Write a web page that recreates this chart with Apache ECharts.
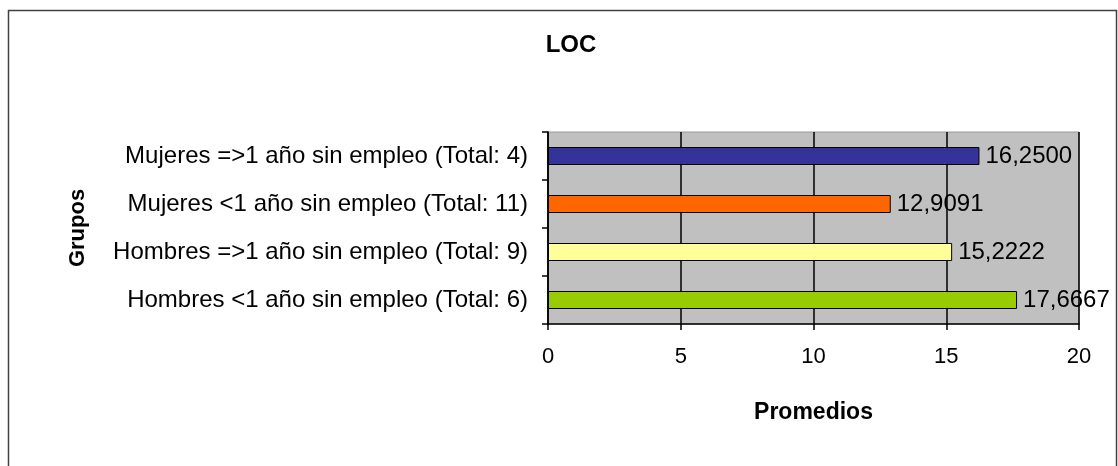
<!DOCTYPE html>
<html>
<head>
<meta charset="utf-8">
<title>LOC</title>
<script src="https://cdn.jsdelivr.net/npm/echarts@6/dist/echarts.min.js"></script>
<style>
  html, body { margin: 0; padding: 0; background: #ffffff; }
  #chart { width: 1118px; height: 466px; }
</style>
</head>
<body>
<div id="chart"></div>
<script>
// Groups, listed bottom to top as the category axis draws them
var groups = [
  'Hombres <1 año sin empleo (Total: 6)',
  'Hombres =>1 año sin empleo (Total: 9)',
  'Mujeres <1 año sin empleo (Total: 11)',
  'Mujeres =>1 año sin empleo (Total: 4)'
];
// Average LOC score per group
var averages = [17.6667, 15.2222, 12.9091, 16.25];
var barColors = ['#99CC00', '#FFFF99', '#FF6600', '#333399'];
var xTicks = [0, 5, 10, 15, 20];

var FONT = '"Liberation Sans", Arial, sans-serif';

var chart = echarts.init(document.getElementById('chart'), null, { renderer: 'canvas' });

chart.setOption({
  animation: false,
  backgroundColor: '#ffffff',
  title: {
    text: 'LOC',
    left: 566,
    top: 28,
    textAlign: 'center',
    textStyle: { fontFamily: FONT, fontSize: 24, fontWeight: 'bold', color: '#000' }
  },
  graphic: [{
    type: 'rect',
    shape: { x: 8.5, y: 10.5, width: 1108, height: 470 },
    style: { fill: 'none', stroke: '#404040', lineWidth: 1.5 },
    silent: true,
    z: 100
  }],
  grid: {
    left: 548, right: 39, top: 132, bottom: 142,
    show: true,
    backgroundColor: '#C0C0C0',
    borderColor: '#999999',
    borderWidth: 1
  },
  xAxis: {
    type: 'value',
    min: xTicks[0],
    max: xTicks[xTicks.length - 1],
    interval: 5,
    name: 'Promedios',
    nameLocation: 'middle',
    nameGap: 77,
    nameTextStyle: { fontFamily: FONT, fontSize: 23, fontWeight: 'bold', color: '#000' },
    axisLine: { show: true, lineStyle: { color: '#000', width: 1.5 } },
    axisTick: { show: true, length: 6, lineStyle: { color: '#000', width: 1.5 } },
    axisLabel: { fontFamily: FONT, fontSize: 22, color: '#000', margin: 22 },
    splitLine: { show: true, lineStyle: { color: '#000', width: 1.5 } }
  },
  yAxis: {
    type: 'category',
    data: groups,
    name: 'Grupos',
    nameLocation: 'middle',
    nameRotate: 90,
    nameGap: 459,
    nameTextStyle: { fontFamily: FONT, fontSize: 22, fontWeight: 'bold', color: '#000' },
    axisLine: { show: true, lineStyle: { color: '#000', width: 1.5 } },
    axisTick: { show: true, length: 6, lineStyle: { color: '#000', width: 1.5 } },
    axisLabel: { fontFamily: FONT, fontSize: 24, color: '#000', margin: 20 },
    splitLine: { show: false }
  },
  series: [{
    type: 'bar',
    data: averages.map(function (v, i) {
      return { value: v, itemStyle: { color: barColors[i] } };
    }),
    barWidth: 18,
    itemStyle: { borderColor: '#000', borderWidth: 1 },
    label: {
      show: true,
      position: 'right',
      distance: 6,
      fontFamily: FONT,
      fontSize: 24,
      color: '#000',
      formatter: function (p) { return p.value.toFixed(4).replace('.', ','); }
    }
  }]
});
</script>
</body>
</html>
